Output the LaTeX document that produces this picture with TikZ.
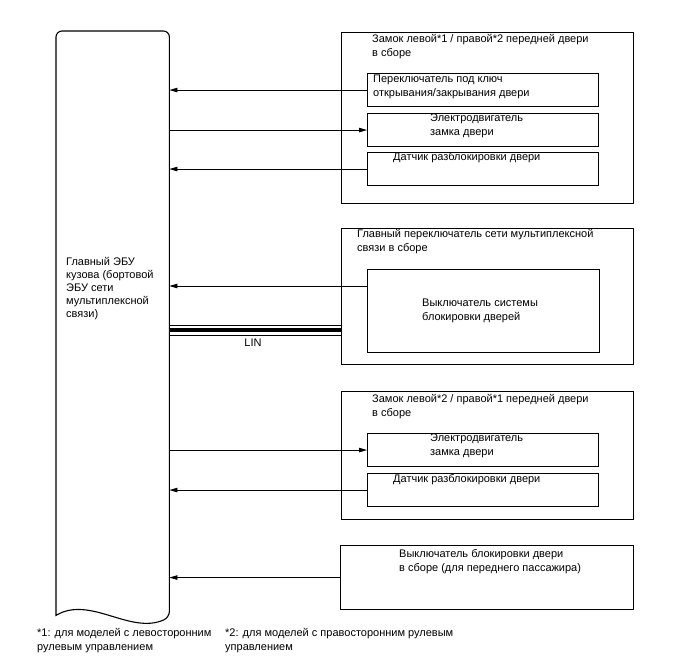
\documentclass[tikz,border=0pt]{standalone}
\usepackage{fontspec}
\setmainfont{Liberation Sans}
\usetikzlibrary{arrows.meta}
\begin{document}
\begin{tikzpicture}[x=1pt,y=-1pt,
  box/.style={draw, line width=1.1pt, inner sep=0pt, anchor=north west},
  txt/.style={inner sep=0pt, anchor=north west, align=left, font=\fontsize{11}{14}\selectfont},
  arr/.style={line width=0.8pt, -{Triangle[length=8pt,width=4.5pt]}}]
\useasboundingbox (0,0) rectangle (688,658);
% ECU
\node[inner sep=0pt, anchor=north west, minimum width=113pt, minimum height=584pt] (ecu) at (56,31) {};
\draw[line width=1.1pt, rounded corners=6pt] (ecu.south west) -- (ecu.north west) -- (ecu.north east)
  -- ([yshift=-2pt]ecu.south east) [sharp corners]
  .. controls (130,635) and (90,595) .. (ecu.south west) -- cycle;
\node[txt, font=\fontsize{11}{13}\selectfont] (ecut) at (66,257) {Главный ЭБУ\\кузова (бортовой\\ЭБУ сети\\мультиплексной\\связи)};
% door lock 1
\node[box, minimum width=292pt, minimum height=171pt] (d1) at (341,32) {};
\node[txt] (d1t) at (372,34) {Замок левой*1 / правой*2 передней двери\\в сборе};
\node[box, minimum width=231pt, minimum height=33pt] (a1) at (367,73) {};
\node[txt] (a1t) at (373,75) {Переключатель под ключ\\открывания/закрывания двери};
\node[box, minimum width=231pt, minimum height=33pt] (b1) at (367,113) {};
\node[txt] (b1t) at (430,114) {Электродвигатель\\замка двери};
\node[box, minimum width=231pt, minimum height=33pt] (c1) at (367,152) {};
\node[txt] (c1t) at (393,152) {Датчик разблокировки двери};
% main switch
\node[box, minimum width=292pt, minimum height=136pt] (d2) at (341,228) {};
\node[txt] (d2t) at (357,229) {Главный переключатель сети мультиплексной\\связи в сборе};
\node[box, minimum width=232pt, minimum height=83pt] (s2) at (367,269) {};
\node[txt] (s2t) at (422,299) {Выключатель системы\\блокировки дверей};
% door lock 2
\node[box, minimum width=292pt, minimum height=128pt] (d3) at (341,391) {};
\node[txt] (d3t) at (372,394) {Замок левой*2 / правой*1 передней двери\\в сборе};
\node[box, minimum width=231pt, minimum height=33pt] (b3) at (367,433) {};
\node[txt] (b3t) at (430,434) {Электродвигатель\\замка двери};
\node[box, minimum width=231pt, minimum height=33pt] (c3) at (367,473) {};
\node[txt] (c3t) at (393,474) {Датчик разблокировки двери};
% passenger switch
\node[box, minimum width=293pt, minimum height=64pt] (d4) at (340,545) {};
\node[txt] (d4t) at (399,549) {Выключатель блокировки двери\\в сборе (для переднего пассажира)};
% arrows
\draw[arr] (a1.west) -- (ecu.east |- a1.west);
\draw[arr] (ecu.east |- b1.west) -- (b1.west);
\draw[arr] (c1.west) -- (ecu.east |- c1.west);
\coordinate (s2a) at (367,286);
\draw[arr] (s2.west |- s2a) -- (ecu.east |- s2a);
\draw[arr] (ecu.east |- b3.west) -- (b3.west);
\draw[arr] (c3.west) -- (ecu.east |- c3.west);
\draw[arr] (d4.west) -- (ecu.east |- d4.west);
% LIN
\coordinate (lin) at (341,330);
\draw[line width=0.8pt] ([yshift=-5pt]ecu.east |- lin) -- ([yshift=-5pt]d2.west |- lin);
\draw[line width=4pt] (ecu.east |- lin) -- (d2.west |- lin);
\draw[line width=0.8pt] ([yshift=5pt]ecu.east |- lin) -- ([yshift=5pt]d2.west |- lin);
\node[inner sep=0pt, font=\fontsize{11}{14}\selectfont] (lint) at (253,343) {LIN};
% footnotes
\node[txt] (f1) at (37,628) {*1: для моделей с левосторонним\\рулевым управлением};
\node[txt] (f2) at (225,628) {*2: для моделей с правосторонним рулевым\\управлением};
\end{tikzpicture}
\end{document}
